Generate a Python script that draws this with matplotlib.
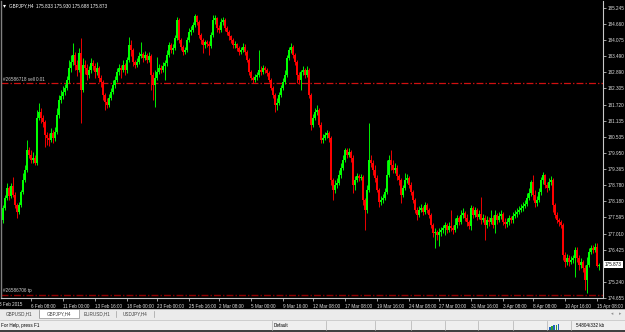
import numpy as np
import matplotlib
matplotlib.use("Agg")
import matplotlib.pyplot as plt
import matplotlib.transforms as mtransforms
from matplotlib.patches import Rectangle

# GBPJPY H4 candles (open = previous close)
symbol = "GBPJPY,H4"
first_open = 177.51
closes = [
    177.95, 178.31, 178.68, 178.38, 178.75, 178.42, 178.05, 177.80, 178.05, 178.53,
    178.97, 179.33, 180.06, 179.88, 179.70, 179.77, 179.59, 181.23, 181.45, 181.23,
    181.08, 180.61, 180.50, 180.43, 180.68, 180.50, 180.72, 181.34, 181.89, 182.03,
    182.18, 182.33, 182.62, 183.06, 183.27, 183.53, 183.16, 182.98, 183.60, 182.25,
    183.16, 183.06, 182.80, 182.98, 183.24, 183.13, 182.91, 183.06, 182.69, 182.54,
    182.07, 181.81, 181.70, 181.96, 182.18, 182.43, 182.62, 182.91, 183.06, 182.98,
    183.16, 182.98, 183.35, 183.89, 183.71, 183.27, 183.16, 183.27, 183.49, 183.57,
    183.42, 183.53, 183.35, 183.49, 182.80, 182.43, 182.69, 182.91, 183.06, 182.98,
    183.13, 183.24, 183.53, 183.89, 183.71, 183.79, 184.15, 184.81, 184.08, 183.82,
    183.64, 183.71, 184.08, 184.37, 184.44, 184.62, 184.95, 184.73, 184.26, 184.08,
    183.89, 184.00, 183.93, 183.86, 184.26, 184.81, 184.88, 184.52, 184.44, 184.73,
    184.81, 184.52, 184.37, 184.22, 184.08, 183.89, 183.93, 183.79, 183.64, 183.71,
    183.82, 183.64, 183.35, 182.91, 182.69, 182.62, 182.73, 182.80, 182.98, 182.91,
    183.06, 182.98, 182.87, 182.62, 182.33, 182.07, 181.70, 181.78, 182.07, 182.33,
    182.54, 182.80, 183.42, 183.71, 183.82, 183.53, 183.27, 182.80, 182.62, 182.91,
    182.98, 182.80, 182.98, 182.07, 180.97, 181.23, 181.45, 181.52, 180.97, 180.43,
    180.50, 180.61, 180.68, 180.50, 178.97, 178.60, 178.78, 178.86, 179.15, 179.41,
    179.70, 180.06, 179.88, 179.99, 179.77, 178.78, 178.97, 179.11, 179.04, 179.08,
    178.24, 177.87, 178.60, 179.70, 179.59, 179.33, 179.04, 178.60, 178.16, 178.24,
    178.31, 178.53, 179.15, 179.70, 179.51, 179.33, 179.41, 179.11, 178.97, 178.42,
    178.68, 178.97, 179.04, 178.78, 178.53, 178.24, 177.87, 177.69, 177.87, 177.95,
    177.80, 178.05, 177.87, 177.69, 177.32, 177.03, 177.07, 176.96, 177.07, 177.14,
    177.21, 177.32, 177.14, 177.29, 177.21, 177.14, 177.32, 177.58, 177.43, 177.69,
    177.76, 177.58, 177.43, 177.29, 177.95, 177.69, 177.87, 177.62, 177.73, 177.51,
    177.58, 177.32, 177.51, 177.43, 177.58, 177.32, 177.69, 177.51, 177.65, 177.73,
    177.43, 177.36, 177.43, 177.58, 177.51, 177.65, 177.73, 177.80, 177.87, 177.95,
    178.02, 178.09, 178.31, 178.49, 178.89, 178.42, 178.13, 178.24, 178.53, 178.97,
    179.15, 178.78, 178.68, 178.89, 178.97, 178.05, 177.69, 177.51, 177.43, 177.32,
    176.23, 175.97, 176.12, 175.97, 176.05, 176.12, 176.41, 176.12, 175.86, 175.97,
    175.75, 175.32, 175.86, 176.34, 176.49, 176.41, 176.52, 175.833, 175.873,
]
highs = [
    178.05, 178.42, 178.86, 178.75, 178.86, 179.08, 178.53, 178.13, 178.16, 178.60,
    179.22, 179.51, 180.43, 180.17, 180.06, 179.99, 179.88, 181.52, 181.78, 181.60,
    181.34, 181.16, 180.72, 180.68, 180.86, 180.79, 180.90, 181.60, 182.07, 182.25,
    182.40, 182.47, 182.76, 183.35, 183.53, 183.97, 183.64, 183.35, 183.79, 184.15,
    183.42, 183.35, 183.20, 183.13, 183.42, 183.35, 183.24, 183.27, 183.13, 182.80,
    182.62, 182.14, 181.96, 182.11, 182.33, 182.62, 182.76, 183.06, 183.20, 183.16,
    183.35, 183.24, 183.46, 184.19, 184.08, 183.79, 183.35, 183.42, 183.64, 184.00,
    183.64, 183.67, 183.60, 183.64, 183.57, 182.91, 182.98, 183.46, 183.20, 183.16,
    183.27, 183.35, 183.71, 184.00, 183.97, 183.93, 184.26, 184.92, 184.88, 184.15,
    183.89, 183.82, 184.19, 184.52, 184.59, 184.73, 185.03, 184.99, 184.81, 184.33,
    184.15, 184.08, 184.08, 184.04, 184.37, 184.99, 184.99, 184.92, 184.62, 184.88,
    184.92, 184.88, 184.59, 184.44, 184.26, 184.15, 184.04, 183.97, 183.86, 183.82,
    183.97, 183.93, 183.71, 183.42, 182.98, 182.76, 182.84, 182.91, 183.71, 183.13,
    183.16, 183.13, 183.06, 182.95, 182.69, 182.40, 182.14, 181.96, 182.18, 182.44,
    182.69, 182.98, 183.53, 183.82, 183.97, 183.89, 183.60, 183.35, 182.91, 182.98,
    183.13, 183.06, 183.13, 183.06, 182.14, 181.38, 181.60, 181.70, 181.60, 181.08,
    180.65, 180.72, 180.79, 180.76, 180.57, 179.04, 178.97, 179.04, 179.33, 179.59,
    179.88, 180.14, 180.14, 180.14, 180.06, 179.88, 179.11, 179.22, 179.19, 179.19,
    179.15, 178.31, 178.78, 181.05, 179.88, 179.70, 179.51, 179.15, 178.67, 178.38,
    178.46, 178.67, 179.70, 179.88, 180.06, 179.70, 179.59, 179.51, 179.19, 179.04,
    178.78, 179.22, 179.19, 179.11, 178.89, 178.60, 178.31, 177.98, 178.02, 178.09,
    178.02, 178.16, 178.13, 177.95, 177.76, 177.40, 177.21, 177.14, 177.21, 177.25,
    177.32, 177.43, 177.40, 177.43, 177.87, 177.32, 177.58, 177.69, 177.65, 177.87,
    177.95, 177.84, 177.73, 177.51, 178.05, 178.02, 177.98, 177.95, 177.87, 178.35,
    177.73, 177.69, 177.65, 177.62, 177.87, 177.69, 177.87, 177.76, 177.80, 177.87,
    177.80, 177.58, 177.58, 177.69, 177.65, 177.80, 177.87, 177.95, 178.02, 178.09,
    178.16, 178.24, 178.49, 178.67, 178.97, 179.15, 178.60, 178.38, 178.67, 179.08,
    179.26, 179.19, 178.89, 179.04, 179.11, 179.04, 178.13, 177.80, 177.58, 177.51,
    177.40, 176.34, 176.27, 176.23, 176.19, 176.23, 176.52, 176.52, 176.23, 176.12,
    176.05, 175.86, 176.16, 176.49, 176.59, 176.59, 176.67, 176.67, 175.930,
]
lows = [
    177.40, 177.87, 178.24, 178.24, 178.31, 178.35, 177.95, 177.58, 177.73, 177.98,
    178.46, 178.89, 179.26, 179.77, 179.59, 179.59, 179.51, 179.51, 181.16, 181.05,
    180.90, 180.17, 180.24, 180.21, 180.35, 180.32, 180.39, 180.65, 181.23, 181.78,
    181.92, 182.07, 182.25, 182.51, 182.91, 183.16, 182.98, 182.76, 182.91, 181.05,
    182.18, 182.84, 182.62, 182.69, 182.87, 182.98, 182.69, 182.80, 182.54, 182.36,
    181.89, 181.52, 181.60, 181.63, 181.89, 182.11, 182.33, 182.54, 182.80, 182.69,
    182.91, 182.80, 182.87, 183.27, 183.49, 183.13, 183.06, 183.09, 183.20, 183.42,
    183.27, 183.35, 183.24, 183.27, 182.25, 181.89, 181.63, 182.62, 182.84, 182.87,
    182.91, 182.62, 183.13, 183.46, 183.60, 183.57, 183.71, 184.08, 183.97, 183.71,
    183.53, 183.57, 183.64, 184.00, 184.26, 184.37, 184.55, 184.62, 184.15, 183.93,
    183.60, 183.79, 183.82, 183.53, 183.79, 184.19, 184.66, 184.37, 184.33, 184.37,
    184.62, 184.41, 184.26, 184.08, 183.97, 183.79, 183.79, 183.67, 183.53, 183.57,
    183.64, 183.53, 183.27, 182.80, 182.62, 182.51, 182.54, 182.62, 182.73, 182.80,
    182.84, 182.87, 182.76, 182.54, 182.25, 181.96, 181.45, 181.52, 181.70, 181.99,
    182.25, 182.47, 182.73, 183.35, 183.60, 183.42, 183.16, 182.51, 182.47, 182.25,
    182.80, 182.69, 182.73, 181.96, 180.79, 180.90, 181.16, 181.34, 180.90, 180.32,
    180.32, 180.43, 180.50, 180.35, 178.78, 178.24, 178.49, 178.67, 178.78, 179.04,
    179.33, 179.62, 179.77, 179.81, 179.62, 178.49, 178.60, 178.89, 178.93, 178.97,
    178.05, 177.14, 177.76, 178.53, 179.44, 179.15, 178.89, 178.53, 177.98, 178.05,
    178.13, 178.24, 178.46, 179.08, 179.33, 179.22, 179.22, 178.97, 178.78, 178.13,
    178.35, 178.60, 178.86, 178.67, 178.42, 178.13, 177.76, 177.51, 177.62, 177.80,
    177.69, 177.73, 177.76, 177.58, 177.21, 176.89, 176.49, 176.78, 176.56, 176.92,
    177.03, 176.96, 177.03, 177.07, 177.11, 177.00, 177.07, 177.21, 177.32, 177.36,
    177.58, 177.47, 177.29, 177.18, 177.14, 177.58, 177.62, 177.51, 177.54, 177.36,
    177.43, 176.78, 177.21, 177.29, 177.36, 177.21, 177.03, 177.36, 177.43, 177.54,
    177.32, 177.21, 177.25, 177.32, 177.40, 177.40, 177.58, 177.62, 177.73, 177.80,
    177.84, 177.95, 178.02, 178.24, 178.38, 178.24, 177.98, 178.02, 178.16, 178.42,
    178.82, 178.67, 178.53, 178.60, 178.78, 177.80, 177.58, 177.40, 177.29, 177.21,
    176.05, 175.79, 175.86, 175.83, 175.90, 175.94, 175.43, 175.97, 175.68, 175.75,
    175.61, 174.95, 174.84, 175.79, 176.27, 176.30, 176.34, 175.79, 175.688,
]

# 175.840 sits under the current-price box, so it is not listed
price_ticks = [185.245, 184.660, 184.075, 183.490, 182.890, 182.305, 181.720,
               181.135, 180.535, 179.950, 179.365, 178.780, 178.180, 177.595,
               177.010, 176.425, 175.240, 174.655]
time_ticks = [14, 30, 46, 62, 77, 93, 108, 124, 140, 155, 171, 187, 203, 218,
              234, 250, 265, 281, 297]
time_labels = ["6 Feb 08:00", "11 Feb 00:00", "13 Feb 16:00", "18 Feb 00:00",
               "23 Feb 00:00", "25 Feb 16:00", "2 Mar 08:00", "5 Mar 00:00",
               "9 Mar 16:00", "12 Mar 08:00", "17 Mar 08:00", "19 Mar 16:00",
               "24 Mar 08:00", "27 Mar 00:00", "31 Mar 16:00", "3 Apr 08:00",
               "8 Apr 08:00", "10 Apr 16:00", "15 Apr 08:00"]
first_label = "3 Feb 2015"
sell_level = 182.51
sell_text = "#26586718 sell 0.01"
tp_level = 174.78
tp_text = "#26586706 tp"
tabs = ["GBPUSD,H1", "GBPJPY,H4", "EURUSD,H1", "USDJPY,H4"]
active_tab = 1

plt.rcParams['font.family'] = ['Liberation Sans', 'DejaVu Sans']
plt.rcParams['lines.scale_dashes'] = False
FS = 3.3

closes = np.array(closes)
highs = np.array(highs)
lows = np.array(lows)
opens = np.concatenate([[first_open], closes[:-1]])
idx = np.arange(len(closes))

W, H = 625, 332
fig = plt.figure(figsize=(W / 100, H / 100), dpi=100, facecolor='black')

# main chart area: x 1..603 px, y 1..298 px
ax = fig.add_axes([1 / W, (H - 298) / H, 602 / W, 297 / H])
ax.set_facecolor('black')
ax.set_xlim(-1, 300)
ax.set_ylim(174.66, 185.50)

#1. candles
up = closes >= opens
cols = np.where(up, '#00ff00', '#ff0000')
ax.vlines(idx, lows, highs, colors=cols, linewidth=0.65, zorder=3)
body_lo = np.minimum(opens, closes)
body_h = np.maximum(np.abs(closes - opens), 0.025)
ax.bar(idx, body_h, bottom=body_lo, width=0.9, color=cols, linewidth=0, zorder=3)

#2. order lines
ax.axhline(sell_level, color='#d01010', linewidth=0.9, linestyle=(0, (5, 1.5, 1, 1.5)), zorder=2)
ax.axhline(tp_level, color='#900000', linewidth=1.0, linestyle=(0, (5, 1.5, 1, 1.5)), zorder=2)
bt = mtransforms.blended_transform_factory(ax.transAxes, ax.transData)
ax.text(0.004, sell_level + 0.04, sell_text, transform=bt, color='#d0d0d0',
        fontsize=FS, va='bottom', ha='left')
ax.text(0.004, tp_level + 0.04, tp_text, transform=bt, color='#d0d0d0',
        fontsize=FS, va='bottom', ha='left')

# title line
ax.text(0.003, 0.992, "\u25BE", transform=ax.transAxes, color='white',
        fontsize=FS + 1, va='top', ha='left', family='DejaVu Sans')
ax.text(0.014, 0.993,
        f"{symbol}  {opens[-1]:.3f} {highs[-1]:.3f} {lows[-1]:.3f} {closes[-1]:.3f}",
        transform=ax.transAxes, color='white', fontsize=FS, va='top', ha='left')

#3. axes styling
ax.spines['top'].set_visible(False)
ax.spines['left'].set_color('#808080')
ax.spines['left'].set_linewidth(1.0)
ax.spines['right'].set_color('#c8c8c8')
ax.spines['bottom'].set_color('#c8c8c8')
ax.spines['right'].set_linewidth(0.8)
ax.spines['bottom'].set_linewidth(0.8)

ax.yaxis.tick_right()
ax.set_yticks(price_ticks)
ax.set_yticklabels([f"{v:.3f}" for v in price_ticks])
ax.tick_params(axis='y', colors='#e0e0e0', labelsize=FS, length=2, width=0.5, pad=1.5)

ax.set_xticks(time_ticks)
ax.set_xticklabels(time_labels)
ax.tick_params(axis='x', colors='#e0e0e0', labelsize=FS, length=2.5, width=0.5, pad=1.5)
for lab in ax.get_xticklabels():
    lab.set_horizontalalignment('left')
ax.text(-2.0, -0.012, first_label,
        transform=mtransforms.blended_transform_factory(ax.transData, ax.transAxes),
        color='#e0e0e0', fontsize=FS, va='top', ha='left', clip_on=False)

# current price box on the price scale
ax.text(1.003, closes[-1], f"{closes[-1]:.3f}", transform=bt, color='black',
        fontsize=FS, va='center', ha='left', zorder=5, clip_on=False,
        bbox=dict(facecolor='white', edgecolor='none', pad=0.6))

#4. terminal chrome below the chart (pixel coordinates)
ui = fig.add_axes([0, 0, 1, 1])
ui.set_xlim(0, W)
ui.set_ylim(H, 0)
ui.axis('off')
ui.patch.set_alpha(0)

ui.add_patch(Rectangle((0, 309), W, 11, facecolor='#ebebeb', edgecolor='none'))
ui.plot([0, W], [309.3, 309.3], color='#a0a0a0', linewidth=0.5)
tab_x = [0, 39, 79, 116]
tab_w = [39, 40, 37, 38]
for i, name in enumerate(tabs):
    if i == active_tab:
        ui.add_patch(Rectangle((tab_x[i], 309), tab_w[i], 9, facecolor='white',
                               edgecolor='#909090', linewidth=0.5))
    else:
        ui.plot([tab_x[i] + tab_w[i], tab_x[i] + tab_w[i]], [311, 317], color='#a0a0a0', linewidth=0.5)
    ui.text(tab_x[i] + tab_w[i] / 2, 314, name, color='#404040', fontsize=FS,
            ha='center', va='center')
ui.text(612, 314, "\u25C2", color='#909090', fontsize=FS, ha='center', va='center', family='DejaVu Sans')
ui.text(620, 314, "\u25B8", color='#909090', fontsize=FS, ha='center', va='center', family='DejaVu Sans')

ui.add_patch(Rectangle((0, 320), W, 10, facecolor='#efefef', edgecolor='none'))
ui.plot([0, W], [320.3, 320.3], color='#c0c0c0', linewidth=0.5)
for sx in [272, 326, 375, 411, 445, 478, 513, 547, 571]:
    ui.plot([sx, sx], [321, 329.5], color='#b0b0b0', linewidth=0.5)
ui.text(1, 325.5, "For Help, press F1", color='black', fontsize=FS, ha='left', va='center')
ui.text(274, 325.5, "Default", color='black', fontsize=FS, ha='left', va='center')
ui.text(576, 325.5, "54804/332 kb", color='black', fontsize=FS, ha='left', va='center')
for j, c in enumerate(['#2060c0', '#30a030', '#2060c0', '#30a030', '#2060c0']):
    ui.add_patch(Rectangle((549 + j * 2.2, 327 - j * 0.8), 1.6, 2.5 + j * 0.8, facecolor=c, edgecolor='none'))
ui.add_patch(Rectangle((0, 330), W, 2, facecolor='#404040', edgecolor='none'))

fig.savefig("out.png", dpi=100, facecolor='black')
